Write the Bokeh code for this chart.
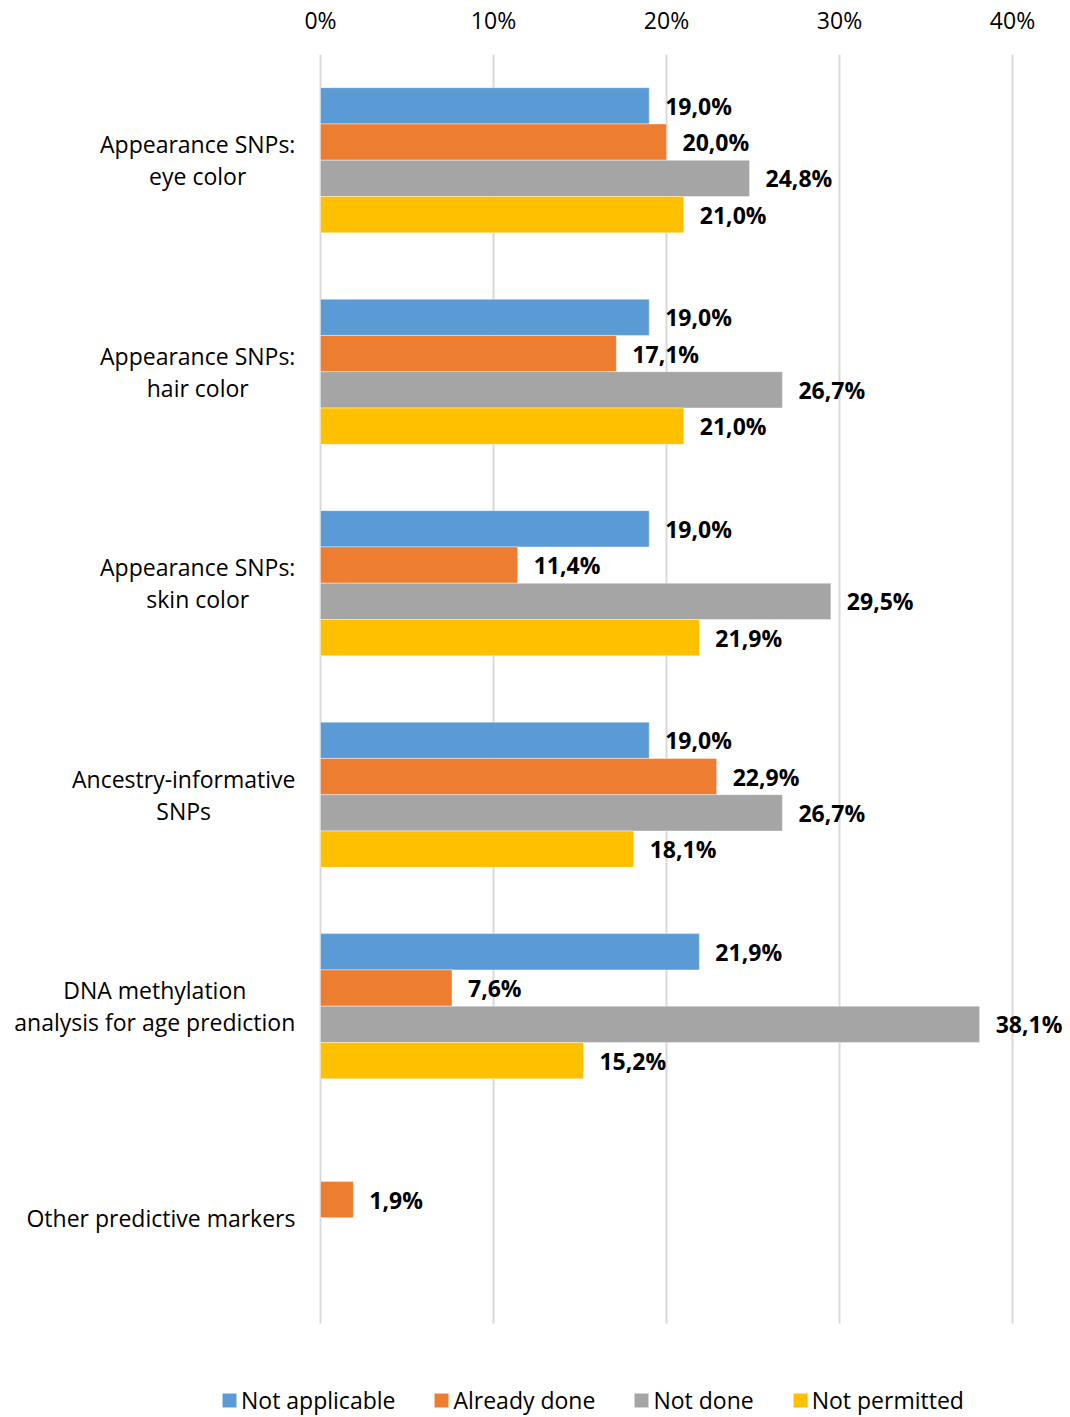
from bokeh.plotting import figure
from bokeh.models import (ColumnDataSource, FixedTicker, PrintfTickFormatter, Range1d,
                          Legend, LegendItem)
from bokeh.core.properties import value
from bokeh.embed import file_html
from bokeh.resources import INLINE

# ---------------- data ----------------
categories = [
    "Appearance SNPs:\neye color",
    "Appearance SNPs:\nhair color",
    "Appearance SNPs:\nskin color",
    "Ancestry-informative\nSNPs",
    "DNA methylation\nanalysis for age prediction",
    "Other predictive markers",
]
series_names = ["Not applicable", "Already done", "Not done", "Not permitted"]
not_applicable = [19.0, 19.0, 19.0, 19.0, 21.9, None]
already_done = [20.0, 17.1, 11.4, 22.9, 7.6, 1.9]
not_done = [24.8, 26.7, 29.5, 26.7, 38.1, None]
not_permitted = [21.0, 21.0, 21.9, 18.1, 15.2, None]
x_ticks = [0, 10, 20, 30, 40]

series_values = [not_applicable, already_done, not_done, not_permitted]
colors = ["#5B9BD5", "#ED7D31", "#A5A5A5", "#FFC000"]

FONT = "Open Sans"
FS = "23px"

# ---------------- layout constants ----------------
W, H = 1070, 1417
PX_PER_UNIT = 17.3          # pixels per percentage point
ZERO_PX = 320               # canvas x of 0 %
x_start = -ZERO_PX / PX_PER_UNIT
x_end = (W - ZERO_PX) / PX_PER_UNIT

n = len(categories)
ypos = [n - 1 - i for i in range(n)]          # first category at the top
FRAME_TOP, PLOT_BOTTOM = 55, 1323
unit_px = (PLOT_BOTTOM - FRAME_TOP) / n
y_lo, y_hi = -0.5, n - 0.5                    # extent of the category area
y_start = y_lo - (H - PLOT_BOTTOM) / unit_px  # extra room below for the legend

p = figure(
    width=W, height=H,
    x_range=Range1d(x_start, x_end), y_range=Range1d(y_start, y_hi),
    x_axis_location="above", y_axis_location=None,
    output_backend="svg", toolbar_location=None,
    min_border_left=0, min_border_right=0, min_border_top=0, min_border_bottom=0,
)
p.outline_line_color = None
p.background_fill_color = "white"
p.border_fill_color = "white"
p.grid.visible = False

# axis
ax = p.xaxis[0]
ax.ticker = FixedTicker(ticks=x_ticks)
ax.formatter = PrintfTickFormatter(format="%d%%")
ax.axis_line_color = None
ax.major_tick_line_color = None
ax.minor_tick_line_color = None
ax.major_tick_out = 0
ax.major_tick_in = 0
ax.major_label_standoff = 19
ax.major_label_text_font = FONT
ax.major_label_text_font_size = FS
ax.major_label_text_color = "black"

# vertical gridlines at the tick positions, spanning the category area
p.segment(x0=x_ticks, x1=x_ticks, y0=[y_lo] * len(x_ticks), y1=[y_hi] * len(x_ticks),
          line_color="#d9d9d9", line_width=2)

# bars
bar_h = 0.1716
offsets = [1.5 * bar_h, 0.5 * bar_h, -0.5 * bar_h, -1.5 * bar_h]
legend_items = []
for name, vals, col, off in zip(series_names, series_values, colors, offsets):
    yy = [y + off for y, v in zip(ypos, vals) if v is not None]
    vv = [v for v in vals if v is not None]
    labels = [f"{v:.1f}%".replace(".", ",") for v in vv]
    src = ColumnDataSource(dict(y=yy, val=vv, lbl=labels))
    r = p.hbar(y="y", left=0, right="val", height=bar_h,
               source=src, fill_color=col, line_color="white", line_width=0.8, line_alpha=0.5)
    p.text(x="val", y="y", text="lbl", source=src,
           x_offset=16, text_align="left", text_baseline="middle",
           text_font=value(FONT), text_font_style="bold", text_font_size=FS, text_color="black")
    legend_items.append(LegendItem(label=name, renderers=[r]))

# category labels: block right-aligned 25px left of 0 %, lines centred within block
CHAR_W = {" ": .260, "A": .633, "C": .631, "D": .726, "N": .752, "O": .781, "P": .603, "S": .549,
          "a": .556, "c": .480, "d": .613, "e": .561, "f": .339, "g": .548, "h": .614, "i": .253,
          "k": .525, "l": .253, "m": .930, "n": .614, "o": .604, "p": .613, "r": .408, "s": .477,
          "t": .353, "v": .501, "y": .501, ":": .266, "-": .322}


def text_width(s, size=23):
    return max(sum(CHAR_W.get(ch, .55) for ch in line) for line in s.split("\n")) * size


label_x = [-(25 + text_width(c) / 2) / PX_PER_UNIT for c in categories]
cat_src = ColumnDataSource(dict(cat=categories, x=label_x, y=ypos))
p.text(x="x", y="y", text="cat", source=cat_src, text_align="center", text_baseline="middle",
       text_font=value(FONT), text_font_size=FS, text_color="black", text_line_height=1.0)

legend = Legend(items=legend_items, orientation="horizontal", location=(220, 1),
                glyph_width=18, glyph_height=18, label_standoff=3, spacing=37,
                padding=0, margin=0, border_line_color=None, background_fill_alpha=0,
                label_text_font=FONT, label_text_font_size=FS, label_text_color="black")
p.add_layout(legend)

open("out.html", "w").write(file_html(p, INLINE))
